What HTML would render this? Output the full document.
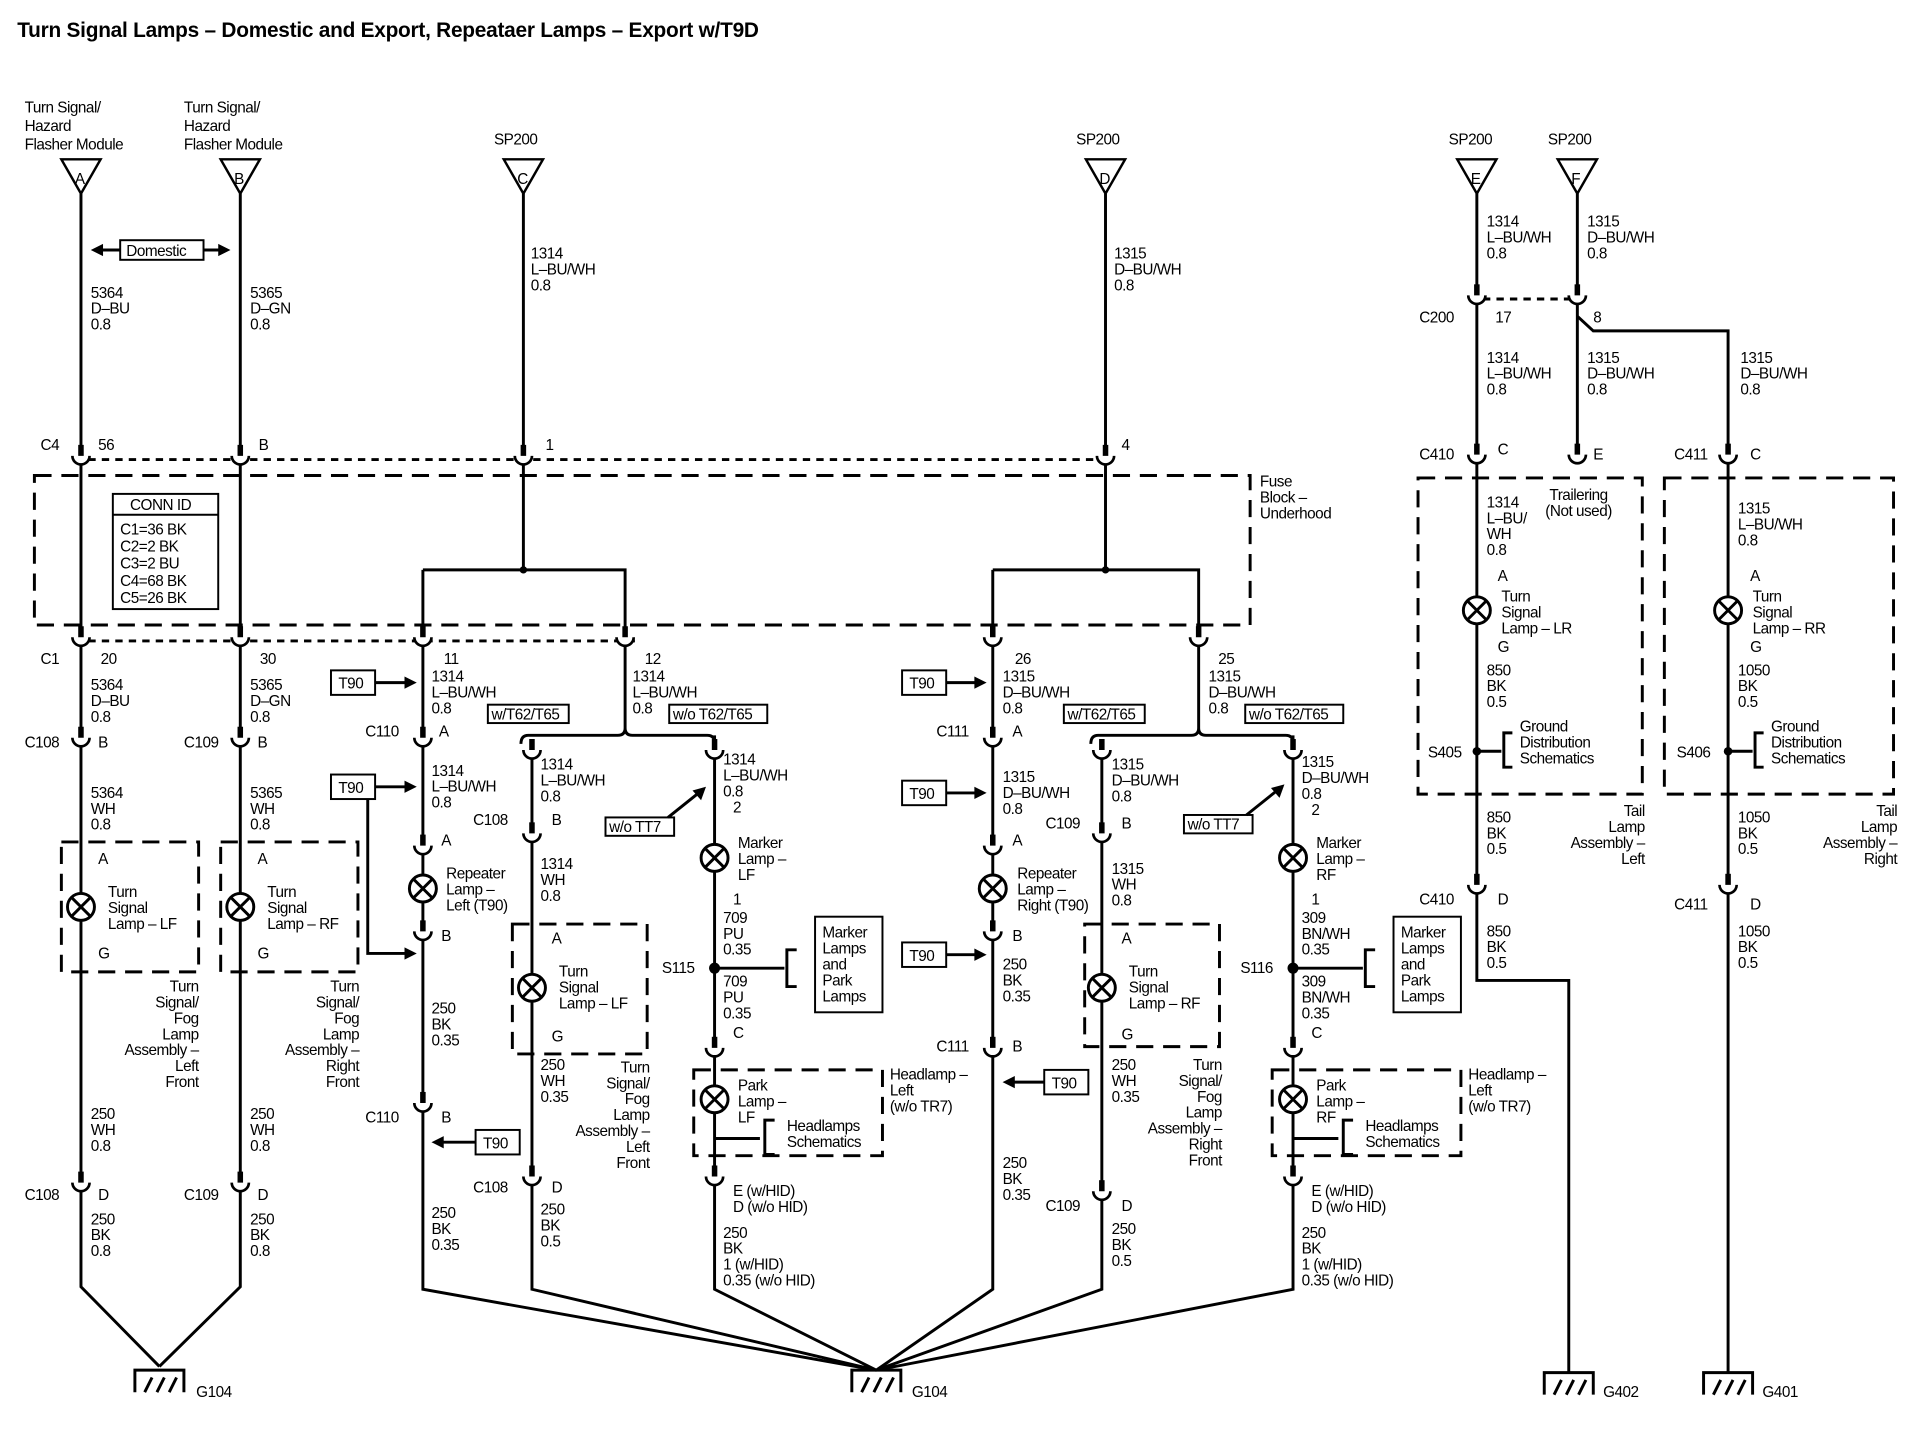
<!DOCTYPE html>
<html><head><meta charset="utf-8"><style>
html,body{margin:0;padding:0;background:#fff;}
svg{display:block;}
text{font-family:"Liberation Sans",Arial,sans-serif;font-size:12.5px;fill:#000;letter-spacing:-0.4px;}
.t{font-size:17px;font-weight:bold;letter-spacing:-0.2px;}
.w{stroke:#000;stroke-width:2.4;fill:none;}
.d{stroke:#000;stroke-width:2.4;fill:none;stroke-dasharray:14 8;}
.dt{stroke:#000;stroke-width:2.4;fill:none;stroke-dasharray:6 5;}
.b{stroke:#000;stroke-width:1.6;fill:#fff;}
.r{text-anchor:end;}
</style></head><body>
<svg width="1912" height="1440" viewBox="0 0 1560 1175" xmlns="http://www.w3.org/2000/svg">
<defs>
<g id="cn"><path d="M0,-12 V0" stroke="#000" stroke-width="4.5"/><path d="M-7,-3 A7,7 0 0 0 7,-3" stroke="#000" stroke-width="2.2" fill="#fff"/></g>
<g id="lp"><circle r="11" fill="#fff" stroke="#000" stroke-width="2.4"/><path d="M-7.5,-7.5 L7.5,7.5 M7.5,-7.5 L-7.5,7.5" stroke="#000" stroke-width="2.4"/></g>
<g id="gd"><path d="M-20,18 V0 H20 V18 M-12,18 L-6,6 M-2,18 L4,6 M8,18 L14,6" stroke="#000" stroke-width="2.4" fill="none"/></g>
<g id="tri"><path d="M-16,0 H16 L0,28 Z" fill="#fff" stroke="#000" stroke-width="2"/></g>
</defs>
<rect width="1560" height="1175" fill="#fff"/>
<text x="14" y="30" class="t">Turn Signal Lamps – Domestic and Export, Repeataer Lamps – Export w/T9D</text>

<text x="20" y="92">Turn Signal/</text><text x="20" y="107">Hazard</text><text x="20" y="122">Flasher Module</text>
<text x="150" y="92">Turn Signal/</text><text x="150" y="107">Hazard</text><text x="150" y="122">Flasher Module</text>
<text x="403" y="118">SP200</text><text x="878" y="118">SP200</text><text x="1182" y="118">SP200</text><text x="1263" y="118">SP200</text>

<path class="w" d="M66,158 V1050 L130,1115 M196,158 V1050 L130,1115"/>
<path class="w" d="M427,158 V465 M345,465 H510 V523 M345,465 V1052 L715,1118"/>
<path class="w" d="M902,158 V465 M810,465 H978 V523 M810,465 V1052 L715,1118"/>
<circle cx="427" cy="465" r="3"/><circle cx="902" cy="465" r="3"/>
<path class="w" d="M425,607 Q425,600 431,600 H504 Q510,600 510,594 V523 M510,594 Q510,600 516,600 H577 Q583,600 583,606"/>
<path class="w" d="M583,600 V1052 L715,1118 M434,610 V1052 L715,1118"/>
<path class="w" d="M890,607 Q890,600 896,600 H972 Q978,600 978,594 V523 M978,594 Q978,600 984,600 H1049 Q1055,600 1055,606"/>
<path class="w" d="M899,610 V1052 L715,1118 M1055,600 V1052 L715,1118"/>
<path class="w" d="M1205,158 V800 H1280 V1120 M1287,158 V258 L1300,270 H1410 V1120 M1287,258 V372"/>

<use href="#tri" x="66" y="130"/><text x="61" y="150">A</text>
<use href="#tri" x="196" y="130"/><text x="191" y="150">B</text>
<use href="#tri" x="427" y="130"/><text x="422" y="150">C</text>
<use href="#tri" x="902" y="130"/><text x="897" y="150">D</text>
<use href="#tri" x="1205" y="130"/><text x="1200" y="150">E</text>
<use href="#tri" x="1287" y="130"/><text x="1282" y="150">F</text>

<path class="w" d="M80,204 H98 M166,204 H182"/>
<path d="M74,204 l10,-5 v10 z M188,204 l-10,-5 v10 z"/>
<rect x="98" y="196" width="68" height="16" class="b"/><text x="103" y="209">Domestic</text>

<path class="dt" d="M72,375 H895"/>
<path class="dt" d="M72,523 H520"/>
<rect x="28" y="388" width="992" height="122" class="d"/>
<text x="1028" y="397">Fuse</text><text x="1028" y="410">Block –</text><text x="1028" y="423">Underhood</text>
<path class="dt" d="M1210,244 H1282"/>

<rect x="92" y="403" width="86" height="94" class="b"/><path d="M92,420 H178" stroke="#000" stroke-width="1.6"/>
<text x="106" y="416">CONN ID</text><text x="98" y="436">C1=36 BK</text><text x="98" y="450">C2=2 BK</text><text x="98" y="464">C3=2 BU</text><text x="98" y="478">C4=68 BK</text><text x="98" y="492">C5=26 BK</text>

<g>
<use href="#cn" x="66" y="375"/><use href="#cn" x="196" y="375"/><use href="#cn" x="427" y="375"/><use href="#cn" x="902" y="375"/>
<use href="#cn" x="66" y="523"/><use href="#cn" x="196" y="523"/><use href="#cn" x="345" y="523"/><use href="#cn" x="510" y="523"/><use href="#cn" x="810" y="523"/><use href="#cn" x="978" y="523"/>
<use href="#cn" x="66" y="605"/><use href="#cn" x="196" y="605"/><use href="#cn" x="345" y="605"/><use href="#cn" x="810" y="605"/>
<use href="#cn" x="434" y="615"/><use href="#cn" x="583" y="615"/><use href="#cn" x="899" y="615"/><use href="#cn" x="1055" y="615"/>
<use href="#cn" x="434" y="683"/><use href="#cn" x="899" y="683"/>
<use href="#cn" x="345" y="693"/><use href="#cn" x="810" y="693"/>
<use href="#cn" x="345" y="763"/><use href="#cn" x="810" y="763"/>
<use href="#cn" x="345" y="903"/><use href="#cn" x="810" y="858"/>
<use href="#cn" x="583" y="858"/><use href="#cn" x="1055" y="858"/>
<use href="#cn" x="66" y="968"/><use href="#cn" x="196" y="968"/><use href="#cn" x="434" y="963"/><use href="#cn" x="583" y="963"/><use href="#cn" x="899" y="975"/><use href="#cn" x="1055" y="963"/>
<use href="#cn" x="1205" y="244"/><use href="#cn" x="1287" y="244"/><use href="#cn" x="1205" y="374"/><use href="#cn" x="1287" y="374"/><use href="#cn" x="1410" y="374"/>
<use href="#cn" x="1205" y="725"/><use href="#cn" x="1410" y="725"/>
</g>

<text x="74" y="243">5364</text><text x="74" y="256">D–BU</text><text x="74" y="269">0.8</text>
<text x="204" y="243">5365</text><text x="204" y="256">D–GN</text><text x="204" y="269">0.8</text>
<text x="33" y="367">C4</text><text x="80" y="367">56</text><text x="211" y="367">B</text>
<text x="33" y="542">C1</text><text x="82" y="542">20</text><text x="212" y="542">30</text>
<text x="74" y="563">5364</text><text x="74" y="576">D–BU</text><text x="74" y="589">0.8</text>
<text x="204" y="563">5365</text><text x="204" y="576">D–GN</text><text x="204" y="589">0.8</text>
<text x="20" y="610">C108</text><text x="80" y="610">B</text><text x="150" y="610">C109</text><text x="210" y="610">B</text>
<text x="74" y="651">5364</text><text x="74" y="664">WH</text><text x="74" y="677">0.8</text>
<text x="204" y="651">5365</text><text x="204" y="664">WH</text><text x="204" y="677">0.8</text>
<rect x="50" y="687" width="112" height="106" class="d" fill="none"/><rect x="180" y="687" width="112" height="106" class="d" fill="none"/>
<use href="#lp" x="66" y="740"/><use href="#lp" x="196" y="740"/>
<text x="80" y="705">A</text><text x="210" y="705">A</text><text x="80" y="782">G</text><text x="210" y="782">G</text>
<text x="88" y="732">Turn</text><text x="88" y="745">Signal</text><text x="88" y="758">Lamp – LF</text>
<text x="218" y="732">Turn</text><text x="218" y="745">Signal</text><text x="218" y="758">Lamp – RF</text>
<text x="162" y="809" class="r">Turn</text><text x="162" y="822" class="r">Signal/</text><text x="162" y="835" class="r">Fog</text><text x="162" y="848" class="r">Lamp</text><text x="162" y="861" class="r">Assembly –</text><text x="162" y="874" class="r">Left</text><text x="162" y="887" class="r">Front</text>
<text x="293" y="809" class="r">Turn</text><text x="293" y="822" class="r">Signal/</text><text x="293" y="835" class="r">Fog</text><text x="293" y="848" class="r">Lamp</text><text x="293" y="861" class="r">Assembly –</text><text x="293" y="874" class="r">Right</text><text x="293" y="887" class="r">Front</text>
<text x="74" y="913">250</text><text x="74" y="926">WH</text><text x="74" y="939">0.8</text>
<text x="204" y="913">250</text><text x="204" y="926">WH</text><text x="204" y="939">0.8</text>
<text x="20" y="979">C108</text><text x="80" y="979">D</text><text x="150" y="979">C109</text><text x="210" y="979">D</text>
<text x="74" y="999">250</text><text x="74" y="1012">BK</text><text x="74" y="1025">0.8</text>
<text x="204" y="999">250</text><text x="204" y="1012">BK</text><text x="204" y="1025">0.8</text>
<use href="#gd" x="130" y="1118"/><text x="160" y="1140">G104</text>
<use href="#gd" x="715" y="1118"/><text x="744" y="1140">G104</text>

<text x="433" y="211">1314</text><text x="433" y="224">L–BU/WH</text><text x="433" y="237">0.8</text><text x="445" y="367">1</text>
<text x="909" y="211">1315</text><text x="909" y="224">D–BU/WH</text><text x="909" y="237">0.8</text><text x="915" y="367">4</text>

<text x="362" y="542">11</text><text x="352" y="556">1314</text><text x="352" y="569">L–BU/WH</text><text x="352" y="582">0.8</text>
<text x="526" y="542">12</text><text x="516" y="556">1314</text><text x="516" y="569">L–BU/WH</text><text x="516" y="582">0.8</text>
<rect x="398" y="575" width="66" height="15" class="b"/><text x="401" y="587">w/T62/T65</text>
<rect x="546" y="575" width="80" height="15" class="b"/><text x="549" y="587">w/o T62/T65</text>
<rect x="270" y="547" width="36" height="20" class="b"/><text x="276" y="562">T90</text>
<path class="w" d="M306,557 H336"/><path d="M340,557 l-10,-5 v10z"/>
<text x="298" y="601">C110</text><text x="358" y="601">A</text>
<text x="352" y="633">1314</text><text x="352" y="646">L–BU/WH</text><text x="352" y="659">0.8</text>
<rect x="270" y="632" width="36" height="20" class="b"/><text x="276" y="647">T90</text>
<path class="w" d="M306,642 H336 M300,652 V778 H330"/><path d="M340,642 l-10,-5 v10z M340,778 l-10,-5 v10z"/>
<text x="360" y="690">A</text><use href="#lp" x="345" y="725"/>
<text x="364" y="717">Repeater</text><text x="364" y="730">Lamp –</text><text x="364" y="743">Left (T90)</text>
<text x="360" y="768">B</text>
<text x="352" y="827">250</text><text x="352" y="840">BK</text><text x="352" y="853">0.35</text>
<text x="298" y="916">C110</text><text x="360" y="916">B</text>
<rect x="388" y="922" width="36" height="20" class="b"/><text x="394" y="937">T90</text>
<path class="w" d="M388,932 H360"/><path d="M352,932 l10,-5 v10z"/>
<text x="352" y="994">250</text><text x="352" y="1007">BK</text><text x="352" y="1020">0.35</text>

<text x="441" y="628">1314</text><text x="441" y="641">L–BU/WH</text><text x="441" y="654">0.8</text>
<text x="386" y="673">C108</text><text x="450" y="673">B</text>
<text x="441" y="709">1314</text><text x="441" y="722">WH</text><text x="441" y="735">0.8</text>
<rect x="418" y="754" width="110" height="106" class="d"/>
<text x="450" y="770">A</text><use href="#lp" x="434" y="806"/>
<text x="456" y="797">Turn</text><text x="456" y="810">Signal</text><text x="456" y="823">Lamp – LF</text>
<text x="450" y="850">G</text>
<text x="441" y="873">250</text><text x="441" y="886">WH</text><text x="441" y="899">0.35</text>
<text x="530" y="875" class="r">Turn</text><text x="530" y="888" class="r">Signal/</text><text x="530" y="901" class="r">Fog</text><text x="530" y="914" class="r">Lamp</text><text x="530" y="927" class="r">Assembly –</text><text x="530" y="940" class="r">Left</text><text x="530" y="953" class="r">Front</text>
<text x="386" y="973">C108</text><text x="450" y="973">D</text>
<text x="441" y="991">250</text><text x="441" y="1004">BK</text><text x="441" y="1017">0.5</text>

<text x="590" y="624">1314</text><text x="590" y="637">L–BU/WH</text><text x="590" y="650">0.8</text><text x="598" y="663">2</text>
<rect x="494" y="667" width="56" height="15" class="b"/><text x="497" y="679">w/o TT7</text>
<path class="w" d="M545,667 L570,647"/><path d="M576,642 l-4,11 l-7,-8z"/>
<use href="#lp" x="583" y="700"/>
<text x="602" y="692">Marker</text><text x="602" y="705">Lamp –</text><text x="602" y="718">LF</text>
<text x="598" y="738">1</text><text x="590" y="753">709</text><text x="590" y="766">PU</text><text x="590" y="779">0.35</text>
<text x="540" y="794">S115</text><circle cx="583" cy="790" r="4.5"/>
<path class="w" d="M583,790 H640 M650,775 H642 V805 H650"/>
<rect x="665" y="748" width="55" height="78" class="b"/>
<text x="671" y="765">Marker</text><text x="671" y="778">Lamps</text><text x="671" y="791">and</text><text x="671" y="804">Park</text><text x="671" y="817">Lamps</text>
<text x="590" y="805">709</text><text x="590" y="818">PU</text><text x="590" y="831">0.35</text>
<text x="598" y="847">C</text>
<rect x="566" y="873" width="154" height="70" class="d"/>
<use href="#lp" x="583" y="897"/>
<text x="602" y="890">Park</text><text x="602" y="903">Lamp –</text><text x="602" y="916">LF</text>
<path class="w" d="M583,929 H620 M632,914 H624 V942 H632"/>
<text x="642" y="923">Headlamps</text><text x="642" y="936">Schematics</text>
<text x="726" y="881">Headlamp –</text><text x="726" y="894">Left</text><text x="726" y="907">(w/o TR7)</text>
<text x="598" y="976">E (w/HID)</text><text x="598" y="989">D (w/o HID)</text>
<text x="590" y="1010">250</text><text x="590" y="1023">BK</text><text x="590" y="1036">1 (w/HID)</text><text x="590" y="1049">0.35 (w/o HID)</text>

<text x="828" y="542">26</text><text x="818" y="556">1315</text><text x="818" y="569">D–BU/WH</text><text x="818" y="582">0.8</text>
<text x="994" y="542">25</text><text x="986" y="556">1315</text><text x="986" y="569">D–BU/WH</text><text x="986" y="582">0.8</text>
<rect x="868" y="575" width="66" height="15" class="b"/><text x="871" y="587">w/T62/T65</text>
<rect x="1016" y="575" width="80" height="15" class="b"/><text x="1019" y="587">w/o T62/T65</text>
<rect x="736" y="547" width="36" height="20" class="b"/><text x="742" y="562">T90</text>
<path class="w" d="M772,557 H800"/><path d="M805,557 l-10,-5 v10z"/>
<text x="764" y="601">C111</text><text x="826" y="601">A</text>
<text x="818" y="638">1315</text><text x="818" y="651">D–BU/WH</text><text x="818" y="664">0.8</text>
<rect x="736" y="637" width="36" height="20" class="b"/><text x="742" y="652">T90</text>
<path class="w" d="M772,647 H800"/><path d="M805,647 l-10,-5 v10z"/>
<text x="826" y="690">A</text><use href="#lp" x="810" y="725"/>
<text x="830" y="717">Repeater</text><text x="830" y="730">Lamp –</text><text x="830" y="743">Right (T90)</text>
<text x="826" y="768">B</text>
<rect x="736" y="769" width="36" height="20" class="b"/><text x="742" y="784">T90</text>
<path class="w" d="M772,779 H800"/><path d="M805,779 l-10,-5 v10z"/>
<text x="818" y="791">250</text><text x="818" y="804">BK</text><text x="818" y="817">0.35</text>
<text x="764" y="858">C111</text><text x="826" y="858">B</text>
<rect x="852" y="873" width="36" height="20" class="b"/><text x="858" y="888">T90</text>
<path class="w" d="M852,883 H826"/><path d="M818,883 l10,-5 v10z"/>
<text x="818" y="953">250</text><text x="818" y="966">BK</text><text x="818" y="979">0.35</text>

<text x="907" y="628">1315</text><text x="907" y="641">D–BU/WH</text><text x="907" y="654">0.8</text>
<text x="853" y="676">C109</text><text x="915" y="676">B</text>
<text x="907" y="713">1315</text><text x="907" y="726">WH</text><text x="907" y="739">0.8</text>
<rect x="885" y="754" width="110" height="100" class="d"/>
<text x="915" y="770">A</text><use href="#lp" x="899" y="806"/>
<text x="921" y="797">Turn</text><text x="921" y="810">Signal</text><text x="921" y="823">Lamp – RF</text>
<text x="915" y="848">G</text>
<text x="907" y="873">250</text><text x="907" y="886">WH</text><text x="907" y="899">0.35</text>
<text x="997" y="873" class="r">Turn</text><text x="997" y="886" class="r">Signal/</text><text x="997" y="899" class="r">Fog</text><text x="997" y="912" class="r">Lamp</text><text x="997" y="925" class="r">Assembly –</text><text x="997" y="938" class="r">Right</text><text x="997" y="951" class="r">Front</text>
<text x="853" y="988">C109</text><text x="915" y="988">D</text>
<text x="907" y="1007">250</text><text x="907" y="1020">BK</text><text x="907" y="1033">0.5</text>

<text x="1062" y="626">1315</text><text x="1062" y="639">D–BU/WH</text><text x="1062" y="652">0.8</text><text x="1070" y="665">2</text>
<rect x="966" y="665" width="56" height="15" class="b"/><text x="969" y="677">w/o TT7</text>
<path class="w" d="M1017,665 L1042,645"/><path d="M1048,640 l-4,11 l-7,-8z"/>
<use href="#lp" x="1055" y="700"/>
<text x="1074" y="692">Marker</text><text x="1074" y="705">Lamp –</text><text x="1074" y="718">RF</text>
<text x="1070" y="738">1</text><text x="1062" y="753">309</text><text x="1062" y="766">BN/WH</text><text x="1062" y="779">0.35</text>
<text x="1012" y="794">S116</text><circle cx="1055" cy="790" r="4.5"/>
<path class="w" d="M1055,790 H1112 M1122,775 H1114 V805 H1122"/>
<rect x="1137" y="748" width="55" height="78" class="b"/>
<text x="1143" y="765">Marker</text><text x="1143" y="778">Lamps</text><text x="1143" y="791">and</text><text x="1143" y="804">Park</text><text x="1143" y="817">Lamps</text>
<text x="1062" y="805">309</text><text x="1062" y="818">BN/WH</text><text x="1062" y="831">0.35</text>
<text x="1070" y="847">C</text>
<rect x="1038" y="873" width="154" height="70" class="d"/>
<use href="#lp" x="1055" y="897"/>
<text x="1074" y="890">Park</text><text x="1074" y="903">Lamp –</text><text x="1074" y="916">RF</text>
<path class="w" d="M1055,929 H1092 M1104,914 H1096 V942 H1104"/>
<text x="1114" y="923">Headlamps</text><text x="1114" y="936">Schematics</text>
<text x="1198" y="881">Headlamp –</text><text x="1198" y="894">Left</text><text x="1198" y="907">(w/o TR7)</text>
<text x="1070" y="976">E (w/HID)</text><text x="1070" y="989">D (w/o HID)</text>
<text x="1062" y="1010">250</text><text x="1062" y="1023">BK</text><text x="1062" y="1036">1 (w/HID)</text><text x="1062" y="1049">0.35 (w/o HID)</text>

<text x="1213" y="185">1314</text><text x="1213" y="198">L–BU/WH</text><text x="1213" y="211">0.8</text>
<text x="1295" y="185">1315</text><text x="1295" y="198">D–BU/WH</text><text x="1295" y="211">0.8</text>
<text x="1158" y="263">C200</text><text x="1220" y="263">17</text><text x="1300" y="263">8</text>
<text x="1213" y="296">1314</text><text x="1213" y="309">L–BU/WH</text><text x="1213" y="322">0.8</text>
<text x="1295" y="296">1315</text><text x="1295" y="309">D–BU/WH</text><text x="1295" y="322">0.8</text>
<text x="1420" y="296">1315</text><text x="1420" y="309">D–BU/WH</text><text x="1420" y="322">0.8</text>
<text x="1158" y="375">C410</text><text x="1222" y="371">C</text><text x="1300" y="375">E</text>
<text x="1366" y="375">C411</text><text x="1428" y="375">C</text>
<rect x="1157" y="390" width="183" height="258" class="d"/><rect x="1358" y="390" width="187" height="258" class="d"/>
<text x="1288" y="408" text-anchor="middle">Trailering</text><text x="1288" y="421" text-anchor="middle">(Not used)</text>
<text x="1213" y="414">1314</text><text x="1213" y="427">L–BU/</text><text x="1213" y="440">WH</text><text x="1213" y="453">0.8</text>
<text x="1418" y="419">1315</text><text x="1418" y="432">L–BU/WH</text><text x="1418" y="445">0.8</text>
<text x="1222" y="474">A</text><text x="1428" y="474">A</text>
<use href="#lp" x="1205" y="498"/><use href="#lp" x="1410" y="498"/>
<text x="1225" y="491">Turn</text><text x="1225" y="504">Signal</text><text x="1225" y="517">Lamp – LR</text>
<text x="1430" y="491">Turn</text><text x="1430" y="504">Signal</text><text x="1430" y="517">Lamp – RR</text>
<text x="1222" y="532">G</text><text x="1428" y="532">G</text>
<text x="1213" y="551">850</text><text x="1213" y="564">BK</text><text x="1213" y="577">0.5</text>
<text x="1418" y="551">1050</text><text x="1418" y="564">BK</text><text x="1418" y="577">0.5</text>
<text x="1165" y="618">S405</text><circle cx="1205" cy="613" r="3.5"/>
<path class="w" d="M1205,613 H1225 M1234,598 H1227 V626 H1234"/>
<text x="1240" y="597">Ground</text><text x="1240" y="610">Distribution</text><text x="1240" y="623">Schematics</text>
<text x="1368" y="618">S406</text><circle cx="1410" cy="613" r="3.5"/>
<path class="w" d="M1410,613 H1430 M1439,598 H1432 V626 H1439"/>
<text x="1445" y="597">Ground</text><text x="1445" y="610">Distribution</text><text x="1445" y="623">Schematics</text>
<text x="1213" y="671">850</text><text x="1213" y="684">BK</text><text x="1213" y="697">0.5</text>
<text x="1418" y="671">1050</text><text x="1418" y="684">BK</text><text x="1418" y="697">0.5</text>
<text x="1342" y="666" class="r">Tail</text><text x="1342" y="679" class="r">Lamp</text><text x="1342" y="692" class="r">Assembly –</text><text x="1342" y="705" class="r">Left</text>
<text x="1548" y="666" class="r">Tail</text><text x="1548" y="679" class="r">Lamp</text><text x="1548" y="692" class="r">Assembly –</text><text x="1548" y="705" class="r">Right</text>
<text x="1158" y="738">C410</text><text x="1222" y="738">D</text><text x="1366" y="742">C411</text><text x="1428" y="742">D</text>
<text x="1213" y="764">850</text><text x="1213" y="777">BK</text><text x="1213" y="790">0.5</text>
<text x="1418" y="764">1050</text><text x="1418" y="777">BK</text><text x="1418" y="790">0.5</text>
<use href="#gd" x="1280" y="1120"/><text x="1308" y="1140">G402</text>
<use href="#gd" x="1410" y="1120"/><text x="1438" y="1140">G401</text>
</svg>
</body></html>
